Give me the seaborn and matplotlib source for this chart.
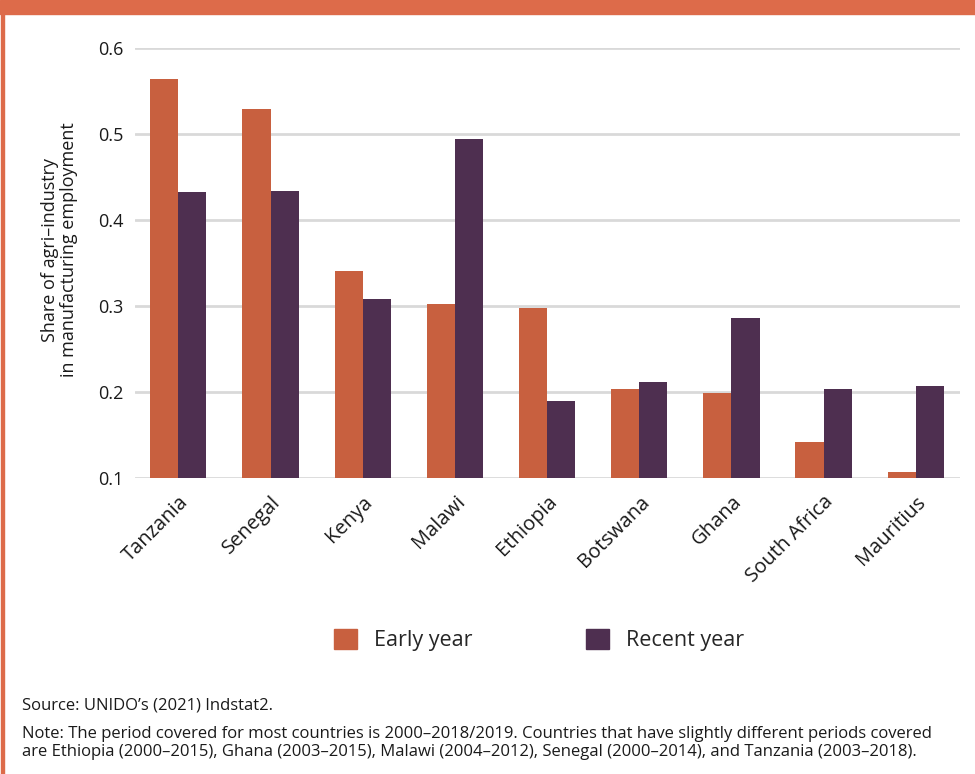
import matplotlib
matplotlib.use("Agg")
import matplotlib.pyplot as plt
from matplotlib.patches import Rectangle
import pandas as pd
import seaborn as sns

countries = ["Tanzania", "Senegal", "Kenya", "Malawi", "Ethiopia",
             "Botswana", "Ghana", "South Africa", "Mauritius"]
early_year = [0.564, 0.529, 0.341, 0.302, 0.298, 0.204, 0.199, 0.142, 0.107]
recent_year = [0.433, 0.434, 0.308, 0.494, 0.190, 0.212, 0.286, 0.204, 0.207]
series_names = ["Early year", "Recent year"]
y_ticks = [0.1, 0.2, 0.3, 0.4, 0.5, 0.6]

early_color = "#C8603F"
recent_color = "#4E2F50"
frame_color = "#DD6B4A"

df = pd.DataFrame({
    "country": countries * 2,
    "period": [series_names[0]] * len(countries) + [series_names[1]] * len(countries),
    "share": early_year + recent_year,
})

sns.set_theme(style="white")
plt.rcParams["font.family"] = ["Open Sans", "DejaVu Sans"]

fig = plt.figure(figsize=(9.75, 7.74), dpi=100)
ax = fig.add_axes([0.1385, 0.3824, 0.8461, 0.5556])

sns.barplot(data=df, x="country", y="share", hue="period",
            palette=[early_color, recent_color], width=0.61,
            saturation=1, linewidth=0, ax=ax, legend=False)

ax.set_ylim(0.1, 0.6)
ax.set_xlim(-0.47, 8.48)
ax.set_yticks(y_ticks)
ax.set_yticklabels([f"{t:.1f}" for t in y_ticks], fontsize=13, color="#1a1a1a")
ax.yaxis.grid(True, color="#D9D9D9", linewidth=2)
ax.set_axisbelow(True)
for s in ax.spines.values():
    s.set_visible(False)
ax.tick_params(axis="y", length=0, pad=8)
ax.tick_params(axis="x", length=0, pad=10)
ax.set_xlabel("")
ax.set_ylabel("Share of agri\u2013industry\nin manufacturing employment",
              fontsize=13, color="#1a1a1a", linespacing=1.1)
ax.yaxis.set_label_coords(-0.069, 0.53)
ax.set_xticks(range(len(countries)))
ax.set_xticklabels(countries, rotation=45, ha="right", rotation_mode="anchor",
                   fontsize=14.5, color="#1a1a1a")

handles = [Rectangle((0, 0), 1, 1, color=early_color),
           Rectangle((0, 0), 1, 1, color=recent_color)]
fig.legend(handles, series_names, loc="center", bbox_to_anchor=(0.553, 0.173),
           ncol=2, frameon=False, fontsize=15.5, handlelength=1.05, handleheight=1.05,
           columnspacing=5.3, handletextpad=0.8)

fig.text(0.023, 1 - 705 / 774, "Source: UNIDO\u2019s (2021) Indstat2.",
         fontsize=12, va="center", color="#1a1a1a")
fig.text(0.023, 1 - 743 / 774,
         "Note: The period covered for most countries is 2000\u20132018/2019. "
         "Countries that have slightly different periods covered\n"
         "are Ethiopia (2000\u20132015), Ghana (2003\u20132015), Malawi (2004\u20132012), "
         "Senegal (2000\u20132014), and Tanzania (2003\u20132018).",
         fontsize=12, va="center", color="#1a1a1a", linespacing=1.2)

# frame: top band and left rule
fig.patches.append(Rectangle((0, 1 - 14 / 774), 1, 14 / 774,
                             transform=fig.transFigure, color=frame_color, zorder=5))
fig.patches.append(Rectangle((1 / 975, 0), 3 / 975, 1,
                             transform=fig.transFigure, color=frame_color, zorder=5))

fig.savefig("out.png", dpi=100)
